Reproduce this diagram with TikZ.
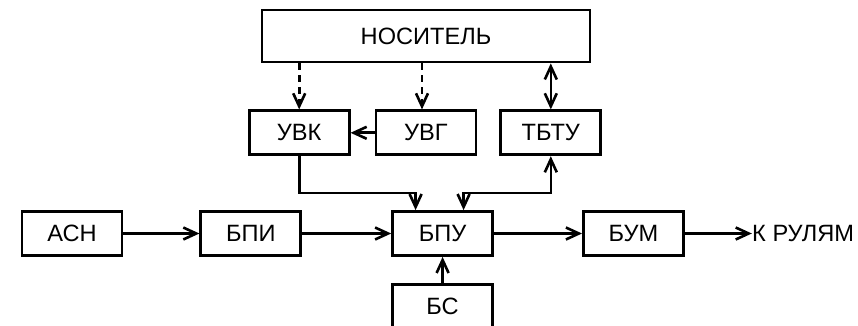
\documentclass[tikz,border=0pt]{standalone}
\usepackage{fontspec}
\setmainfont{Liberation Sans}
\usetikzlibrary{arrows.meta,positioning}

\begin{document}
\begin{tikzpicture}[
      >={Straight Barb[length=6.5pt,width=6pt,line width=1.3pt]},
      font=\fontsize{11.8}{13}\selectfont,
      blok/.style={draw, line width=1.4pt, minimum width=50pt, minimum height=22pt,
                   inner sep=2pt},
      link/.style={->, line width=1.3pt},
    ]
    \useasboundingbox (0,0) rectangle (429pt,-163pt);
    % upper part
    \node[blok, minimum width=164pt, minimum height=26pt] (nos) at (213pt,-18pt) {НОСИТЕЛЬ};
    \node[blok, below=23pt of nos] (uvg) {УВГ};
    \node[blok, left=12pt of uvg] (uvk) {УВК};
    \node[blok, right=11pt of uvg] (tbtu) {ТБТУ};
    % main chain
    \node[blok] (asn) at (36pt,-116.75pt) {АСН};
    \node[blok, right=38pt of asn] (bpi) {БПИ};
    \node[blok, right=44.5pt of bpi] (bpu) {БПУ};
    \node[blok, right=44pt of bpu] (bum) {БУМ};
    \node[inner sep=0pt, anchor=west, right=33.5pt of bum] (rul) {К РУЛЯМ};
    \node[blok, below=13pt of bpu] (bs) {БС};
    % connections
    \draw[link, dashed, dash pattern=on 3.5pt off 2.5pt] (uvk.north |- nos.south) -- (uvk.north);
    \draw[link, dashed, dash pattern=on 3.5pt off 2.5pt] ([xshift=-2pt]uvg.north |- nos.south) -- ([xshift=-2pt]uvg.north);
    \draw[link, <->] (tbtu.north |- nos.south) -- (tbtu.north);
    \draw[link] (uvg) -- (uvk);
    \draw[link] (uvk.south) -- ++(0,-18.5pt) -| ([xshift=-13.5pt]bpu.north);
    \draw[link, <->] (tbtu.south) -- ++(0,-18.5pt) -| ([xshift=10.5pt]bpu.north);
    \draw[link] (asn) -- (bpi);
    \draw[link] (bpi) -- (bpu);
    \draw[link] (bpu) -- (bum);
    \draw[link] (bum) -- (rul);
    \draw[link] (bs) -- (bpu);
  \end{tikzpicture}
\end{document}
